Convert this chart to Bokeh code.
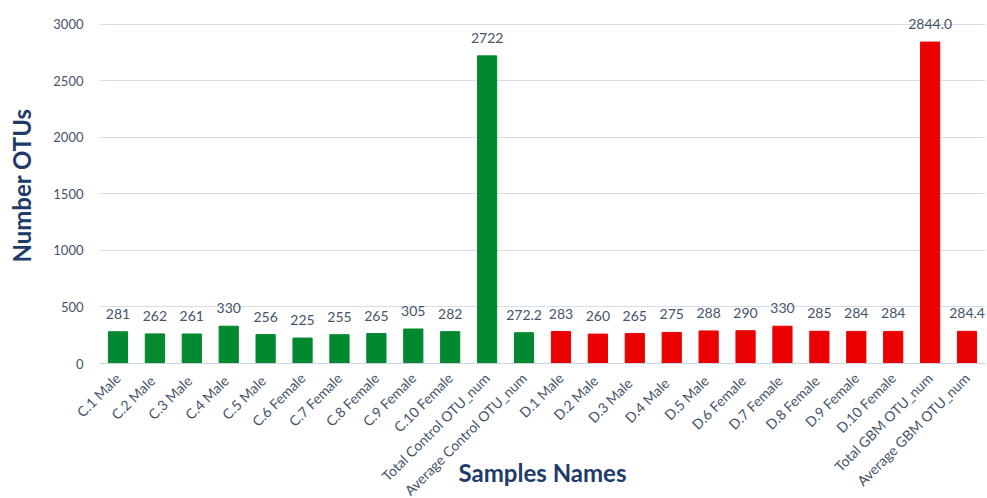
from bokeh.plotting import figure
from bokeh.models import ColumnDataSource, FactorRange, Range1d, FixedTicker
from bokeh.core.properties import value
from bokeh.embed import file_html
from bokeh.resources import INLINE

# Sample names, control group then GBM group
control_names = ["C.1 Male", "C.2  Male", "C.3  Male", "C.4  Male", "C.5  Male",
                 "C.6 Female", "C.7 Female", "C.8 Female", "C.9 Female", "C.10 Female",
                 "Total Control OTU_num", "Average Control OTU_num"]
gbm_names = ["D.1 Male", "D.2  Male", "D.3   Male", "D.4   Male", "D.5  Male",
             "D.6  Female", "D.7  Female", "D.8  Female", "D.9 Female", "D.10 Female",
             "Total GBM OTU_num", "Average GBM OTU_num"]

# Number of OTUs per sample
control_otus = [281, 262, 261, 330, 256, 225, 255, 265, 305, 282, 2722, 272.2]
gbm_otus = [283, 260, 265, 275, 288, 290, 330, 285, 284, 284, 2844.0, 284.4]

# Decimal places shown in each value label
control_decimals = [0, 0, 0, 0, 0, 0, 0, 0, 0, 0, 0, 1]
gbm_decimals = [0, 0, 0, 0, 0, 0, 0, 0, 0, 0, 1, 1]

y_ticks = [0, 500, 1000, 1500, 2000, 2500, 3000]

GREEN = "#00892F"
RED = "#EB0000"
TEXT = "#44546A"
NAVY = "#1F3B6A"
FONT = "Lato"

names = control_names + gbm_names
otus = control_otus + gbm_otus
decimals = control_decimals + gbm_decimals
colors = [GREEN] * len(control_names) + [RED] * len(gbm_names)
labels = [f"{v:.{d}f}" for v, d in zip(otus, decimals)]

source = ColumnDataSource(dict(name=names, otus=otus, color=colors, label=labels))

p = figure(width=987, height=498, x_range=FactorRange(*names, range_padding=0),
           y_range=Range1d(0, 3150), output_backend="svg", toolbar_location=None,
           min_border_left=99, min_border_right=2, min_border_top=7, min_border_bottom=135)
p.outline_line_color = None
p.background_fill_color = "white"

p.vbar(x="name", top="otus", width=0.52, color="color", source=source)

p.text(x="name", y="otus", text="label", source=source, text_align="center",
       text_baseline="middle", y_offset=-18, text_font=value(FONT),
       text_font_size="14px", text_color=TEXT)

# y axis
p.yaxis.ticker = FixedTicker(ticks=y_ticks)
p.yaxis.axis_line_color = None
p.yaxis.major_tick_line_color = None
p.yaxis.minor_tick_line_color = None
p.yaxis.major_label_text_font = FONT
p.yaxis.major_label_text_font_size = "13px"
p.yaxis.major_label_text_color = TEXT
p.yaxis.major_label_standoff = 10
p.yaxis.axis_label = "Number OTUs"
p.yaxis.axis_label_text_font = FONT
p.yaxis.axis_label_text_font_style = "bold"
p.yaxis.axis_label_text_font_size = "24px"
p.yaxis.axis_label_text_color = NAVY
p.yaxis.axis_label_standoff = 14

# x axis: the title overlaps the rotated sample names
p.xaxis.axis_line_color = "#C9D3E2"
p.xaxis.major_tick_line_color = None
p.xaxis.minor_tick_line_color = None
p.xaxis.major_label_orientation = 0.785
p.xaxis.major_label_text_font = FONT
p.xaxis.major_label_text_font_size = "14px"
p.xaxis.major_label_text_color = TEXT
p.xaxis.major_label_standoff = 6
p.xaxis.axis_label = "Samples Names"
p.xaxis.axis_label_text_font = FONT
p.xaxis.axis_label_text_font_style = "bold"
p.xaxis.axis_label_text_font_size = "24px"
p.xaxis.axis_label_text_color = NAVY
p.xaxis.axis_label_standoff = -50

p.xgrid.grid_line_color = None
p.ygrid.grid_line_color = "#D6DDE8"

open("out.html", "w").write(file_html(p, INLINE))
